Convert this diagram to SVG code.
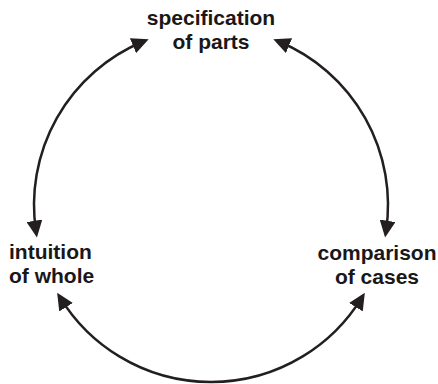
<svg xmlns="http://www.w3.org/2000/svg" width="438" height="384" viewBox="0 0 438 384">
  <style>
    .lbl { font-family: "Liberation Sans", Arial, Helvetica, sans-serif; font-weight: bold; font-size: 21px; fill: #1a1718; }
    .arc { fill: none; stroke: #231f20; stroke-width: 2.5; }
  </style>
  <defs>
    <marker id="ah" markerUnits="userSpaceOnUse" viewBox="0 0 17 16" refX="11" refY="8" markerWidth="17" markerHeight="16" orient="auto-start-reverse">
      <path d="M0,0 L17,8 L0,16 z" fill="#231f20"/>
    </marker>
  </defs>
  <rect width="438" height="384" fill="#ffffff"/>
  <g id="connectors">
    <path class="arc" d="M143.16,41.52 A177,177 0 0 0 36.02,231.65" marker-start="url(#ah)" marker-end="url(#ah)"/>
    <path class="arc" d="M278.84,41.52 A177,177 0 0 1 385.98,231.65" marker-start="url(#ah)" marker-end="url(#ah)"/>
    <path class="arc" d="M60.30,297.85 A177,177 0 0 0 361.70,297.85" marker-start="url(#ah)" marker-end="url(#ah)"/>
  </g>
  <g id="node-specification">
    <text class="lbl" x="211" y="25" text-anchor="middle">specification</text>
    <text class="lbl" x="211" y="49" text-anchor="middle">of parts</text>
  </g>
  <g id="node-intuition">
    <text class="lbl" x="9" y="259">intuition</text>
    <text class="lbl" x="9" y="283">of whole</text>
  </g>
  <g id="node-comparison">
    <text class="lbl" x="377" y="260" text-anchor="middle">comparison</text>
    <text class="lbl" x="377" y="284" text-anchor="middle">of cases</text>
  </g>
</svg>
